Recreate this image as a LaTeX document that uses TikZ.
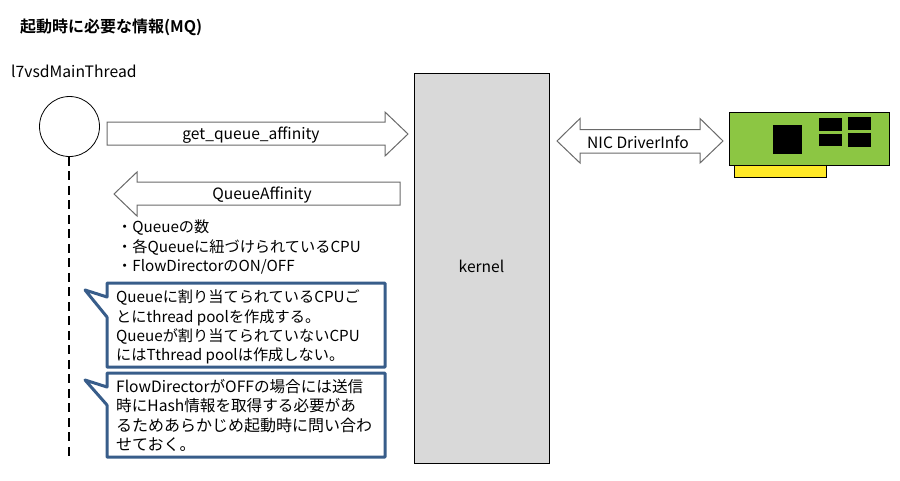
\documentclass[tikz,border=0pt]{standalone}
\usepackage{fontspec}
\setmainfont{Noto Sans CJK JP}[BoldFont={Noto Sans CJK JP Bold}]
\definecolor{calloutblue}{HTML}{385D8A}
\definecolor{kernelgray}{HTML}{D9D9D9}
\definecolor{nicgreen}{HTML}{8CC643}
\definecolor{nicyellow}{HTML}{FFE928}
\definecolor{arrowgray}{HTML}{6A6A6A}
\tikzset{
  x=1pt,y=-1pt,
  bigarrow/.style={draw=arrowgray,line width=1pt,fill=white,line join=miter},
  txt/.style={inner sep=0pt,anchor=base west,font=\fontsize{15.2}{17}\selectfont},
  wtxt/.style={inner sep=0pt,anchor=base west,font=\fontsize{15.6}{17}\selectfont},
  ctxt/.style={inner sep=0pt,font=\fontsize{15.6}{17}\selectfont},
  callout/.style={draw=calloutblue,line width=3pt,fill=white,line join=round},
  chip/.style={fill=black,draw=none},
}
\begin{document}
\begin{tikzpicture}
\useasboundingbox (0,0) rectangle (900,480);
\node[txt,font=\bfseries\fontsize{16}{17}\selectfont] (title) at (20,32) {起動時に必要な情報(MQ)};
\node[txt,font=\fontsize{15.7}{17}\selectfont] (thread) at (11,77) {l7vsdMainThread};
\node[circle,draw,line width=0.8pt,minimum size=60pt,inner sep=0pt] (life) at (69.5,126.5) {};
\coordinate (lifeend) at (68.5,458);
\draw[line width=2pt,dash pattern=on 9pt off 5.5pt] (life.south -| lifeend) -- (lifeend);
% kernel
\node[draw,line width=0.8pt,fill=kernelgray,minimum width=135pt,minimum height=390pt,inner sep=0pt] (kernel) at (481.5,268) {};
\node[ctxt] (kerneltxt) at (481.5,266) {kernel};
% arrows
\draw[bigarrow] (107,122)--(385,122)--(385,112)--(408,134)--(385,156)--(385,145)--(107,145)--cycle;
\node[ctxt] (getq) at (251,135) {get\_queue\_affinity};
\draw[bigarrow] (400,182)--(137,182)--(137,172)--(114,194)--(137,216)--(137,205)--(400,205)--cycle;
\node[ctxt] (qa) at (262,195) {QueueAffinity};
\draw[bigarrow] (557,141)--(580,118.5)--(580,129.5)--(700,129.5)--(700,118.5)--(723,141)--(700,163)--(700,153)--(580,153)--(580,163)--cycle;
\node[ctxt] (drv) at (638,142) {NIC DriverInfo};
% NIC
\node[draw,line width=0.7pt,fill=nicyellow,minimum width=92pt,minimum height=12pt,inner sep=0pt] (edge) at (780,171) {};
\node[draw,line width=0.8pt,fill=nicgreen,minimum width=160pt,minimum height=53pt,inner sep=0pt] (nic) at (809,138.5) {};
\fill[chip] (773,125) rectangle (802,154);
\fill[chip] (819,117.5) rectangle (842,130.5);
\fill[chip] (848,117) rectangle (871,129.5);
\fill[chip] (819,133.5) rectangle (842,146);
\fill[chip] (848,133) rectangle (871,147);
% bullet list
\node[txt] (b1) at (117,232) {・Queueの数};
\node[txt] (b2) at (117,252) {・各Queueに紐づけられているCPU};
\node[txt] (b3) at (117,271) {・FlowDirectorのON/OFF};
% callouts
\draw[callout] (107,283)--(385,283)--(385,367)--(107,367)--(107,317)--(85,290)--(107,297)--cycle;
\draw[callout] (107,373)--(385,373)--(385,457)--(107,457)--(107,405)--(85,380)--(107,387)--cycle;
\node[txt] (c1) at (116,302) {Queueに割り当てられているCPUご};
\node[txt] (c2) at (116,322) {とにthread poolを作成する。};
\node[txt] (c3) at (116,341) {Queueが割り当てられていないCPU};
\node[txt] (c4) at (116,360) {にはTthread poolは作成しない。};
\node[wtxt] (d1) at (116,392) {FlowDirectorがOFFの場合には送信};
\node[wtxt] (d2) at (116,411) {時にHash情報を取得する必要があ};
\node[wtxt,font=\fontsize{16}{17}\selectfont] (d3) at (116,431) {るためあらかじめ起動時に問い合わ};
\node[wtxt,font=\fontsize{16}{17}\selectfont] (d4) at (116,450) {せておく。};
\end{tikzpicture}
\end{document}
